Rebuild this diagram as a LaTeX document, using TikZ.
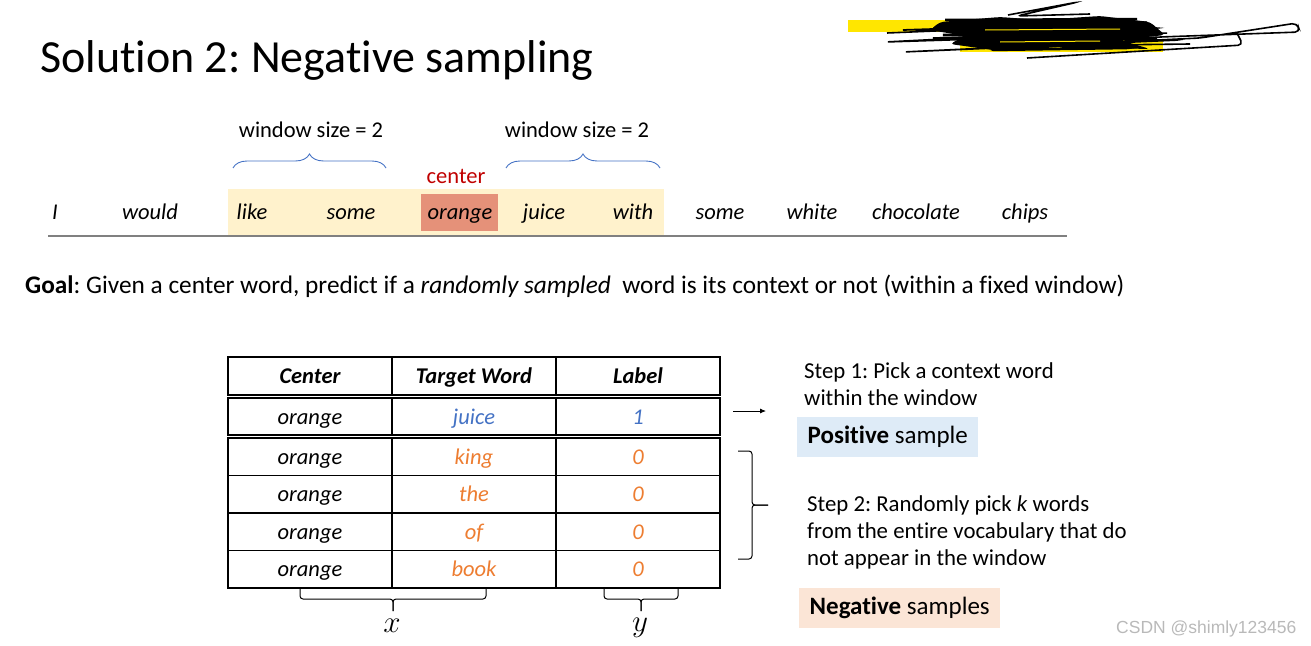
\documentclass[tikz,border=0pt]{standalone}
\usepackage{fontspec}
\setmainfont{Carlito}[Ligatures=NoCommon]
\newfontfamily\markfont{Liberation Sans}
\usetikzlibrary{arrows.meta}
\usetikzlibrary{positioning}
\usetikzlibrary{decorations.pathreplacing}
\usetikzlibrary{calc}

\definecolor{winyellow}{HTML}{FFF2CC}
\definecolor{centerbg}{HTML}{E59179}
\definecolor{centerred}{HTML}{C00000}
\definecolor{posblue}{HTML}{4472C4}
\definecolor{negorange}{HTML}{ED7D31}
\definecolor{posbg}{HTML}{DEEBF7}
\definecolor{negbg}{HTML}{FBE5D6}
\definecolor{hiyellow}{HTML}{FFE600}
\frenchspacing

\begin{document}
\begin{tikzpicture}[
    x=1pt, y=-1pt,
    txt/.style = {font=\fontsize{22.5}{27}\selectfont, inner sep=0pt},
    word/.style = {txt, font=\fontsize{22.5}{27}\selectfont\itshape},
    steptxt/.style = {txt, align=left, anchor=north west,
      font=\fontsize{22.8}{27}\selectfont},
    cell/.style = {
      draw, line width=1.3pt,
      minimum width=164pt, minimum height=37.5pt,
      inner sep=0pt, outer sep=0pt, text height=20pt, text depth=5pt,
      font=\fontsize{22.5}{27}\selectfont\itshape,
    },
    head/.style = {cell, minimum height=38pt,
      font=\fontsize{22.5}{27}\selectfont\bfseries\itshape},
    samplebox/.style = {
      inner xsep=10.5pt, inner ysep=0pt, minimum height=39.5pt,
      font=\fontsize{25}{30}\selectfont,
    },
    varlbl/.style = {inner sep=0pt, scale=1.25,
      font=\fontsize{24}{28}\selectfont},
    wbrace/.style = {posblue, line width=0.9pt, decorate,
      decoration={brace, amplitude=14pt}},
    kbrace/.style = {black, line width=1pt, rounded corners=3pt},
    scribble/.style = {black, line width=1.6pt, rounded corners=5pt},
  ]
  \useasboundingbox (0,0) rectangle (1311,645);

  % title
  \node[anchor=base west, inner sep=0pt, font=\fontsize{46}{52}\selectfont]
    (title) at (40,72) {Solution 2: Negative sampling};

  % scribbled out corner
  \fill[hiyellow] (848,20) rectangle (1010,32);
  \fill[hiyellow] (960,40) rectangle (1163,52);
  \fill[black, rounded corners=4pt] (940,22) -- (1000,17) -- (1040,20)
    -- (1100,16) -- (1150,22) -- (1165,35) -- (1120,40) -- (1150,49)
    -- (1060,47) -- (1000,51) -- (950,44) -- (965,36) -- (930,30) -- cycle;
  \draw[scribble] (887,33) -- (1150,22) -- (900,30) -- (1160,28)
    -- (885,42) -- (1170,33) -- (930,38) -- (1180,40) -- (903,52)
    -- (1200,38) -- (1297,23) -- (1300,32) -- (1160,37) -- (1020,46)
    -- (1190,44);
  \draw[scribble, line width=2.5pt] (945,20) -- (1140,19) -- (950,27)
    -- (1150,31) -- (940,35) -- (1160,38) -- (960,43) -- (1130,48)
    -- (990,50) -- (1100,26);
  \draw[scribble] (1008,15) -- (1078,2) -- (1017,16) -- (1090,14);
  \draw[scribble] (1027,58) -- (1243,45) -- (1237,33);
  \draw[hiyellow, line width=1pt] (985,30) -- (1120,29);
  \draw[hiyellow, line width=1pt] (1000,42) -- (1100,41);

  % sentence with windows
  \fill[winyellow] (228,189) rectangle (664,237);
  \fill[centerbg] (421,194) rectangle (498,231);
  \draw[gray, line width=2pt] (48,236) -- (1067,236);

  \node[word, anchor=base] (w1)  at (55,219)  {I};
  \node[word, anchor=base] (w2)  at (150,219) {would};
  \node[word, anchor=base] (w3)  at (252,219) {like};
  \node[word, anchor=base] (w4)  at (351,219) {some};
  \node[word, anchor=base] (w5)  at (460,219) {orange};
  \node[word, anchor=base] (w6)  at (544,219) {juice};
  \node[word, anchor=base] (w7)  at (633,219) {with};
  \node[word, anchor=base] (w8)  at (720,219) {some};
  \node[word, anchor=base] (w9)  at (812,219) {white};
  \node[word, anchor=base] (w10) at (916,219) {chocolate};
  \node[word, anchor=base] (w11) at (1025,219) {chips};

  \node[txt, anchor=base, centerred] (ctr) at (456,183) {center};

  \coordinate (lbA) at (233,168);
  \coordinate (lbB) at (386,168);
  \coordinate (rbA) at (506,168);
  \coordinate (rbB) at (660,168);
  \draw[wbrace] (lbA) -- (lbB);
  \draw[wbrace] (rbA) -- (rbB);
  \node[txt, anchor=base] (winL) at (311,137) {window size = 2};
  \node[txt, anchor=base] (winR) at (577,137) {window size = 2};

  % goal
  \node[txt, anchor=base west, font=\fontsize{25.3}{30}\selectfont]
    (goal) at (25,293)
    {\textbf{Goal}: Given a center word, predict if a \textit{randomly sampled}\ \ word
     is its context or not (within a fixed window)};

  % table
  \node[head] (h1) at (310,376) {Center};
  \node[head] (h2) at (474,376) {Target Word};
  \node[head] (h3) at (638,376) {Label};

  \node[cell, minimum height=37pt] (r1c1) at (310,416.5) {orange};
  \node[cell, minimum height=37pt, text=posblue] (r1c2) at (474,416.5) {juice};
  \node[cell, minimum height=37pt, text=posblue] (r1c3) at (638,416.5) {1};

  \node[cell] (r2c1) at (310,456.75) {orange};
  \node[cell, text=negorange] (r2c2) at (474,456.75) {king};
  \node[cell, text=negorange] (r2c3) at (638,456.75) {0};
  \node[cell] (r3c1) at (310,494.25) {orange};
  \node[cell, text=negorange] (r3c2) at (474,494.25) {the};
  \node[cell, text=negorange] (r3c3) at (638,494.25) {0};
  \node[cell] (r4c1) at (310,531.75) {orange};
  \node[cell, text=negorange] (r4c2) at (474,531.75) {of};
  \node[cell, text=negorange] (r4c3) at (638,531.75) {0};
  \node[cell] (r5c1) at (310,569.25) {orange};
  \node[cell, text=negorange] (r5c2) at (474,569.25) {book};
  \node[cell, text=negorange] (r5c3) at (638,569.25) {0};

  % braces under the table
  \coordinate (xbL) at (300,589);
  \coordinate (xbR) at (486,589);
  \coordinate (xbT) at (393,611);
  \coordinate (ybL) at (604,589);
  \coordinate (ybR) at (678,589);
  \coordinate (ybT) at (641,611);
  \draw[kbrace] (xbL) -- ++(0,10) -| (xbT);
  \draw[kbrace] (xbR) -- ++(0,10) -| (xbT);
  \draw[kbrace] (ybL) -- ++(0,10) -| (ybT);
  \draw[kbrace] (ybR) -- ++(0,10) -| (ybT);
  \node[varlbl] (xlab) at (392,626) {$x$};
  \node[varlbl] (ylab) at (640,628) {$y$};

  % steps
  \coordinate (arrS) at (733,411);
  \coordinate (arrE) at (766,411);
  \draw[-{Latex[length=6pt, width=5pt]}, line width=0.8pt] (arrS) -- (arrE);

  \node[steptxt] (step1) at (804,362)
    {Step 1: Pick a context word\\within the window};
  \node[samplebox, fill=posbg, anchor=north west] (pos) at (797,417)
    {\textbf{Positive} sample};

  \coordinate (nbT) at (738,451);
  \coordinate (nbB) at (738,559);
  \coordinate (nbM) at (768,505);
  \draw[kbrace] (nbT) -- ++(14,0) |- (nbM);
  \draw[kbrace] (nbB) -- ++(14,0) |- (nbM);

  \node[steptxt] (step2) at (807,495)
    {Step 2: Randomly pick \textit{k} words\\from the entire vocabulary that do\\not appear in the window};
  \node[samplebox, fill=negbg, anchor=north west] (neg) at (799,588)
    {\textbf{Negative} samples};

  \node[anchor=base west, inner sep=0pt, text=gray!55,
    font=\markfont\fontsize{17.5}{20}\selectfont] (mark) at (1116,633)
    {CSDN @shimly123456};
\end{tikzpicture}
\end{document}
